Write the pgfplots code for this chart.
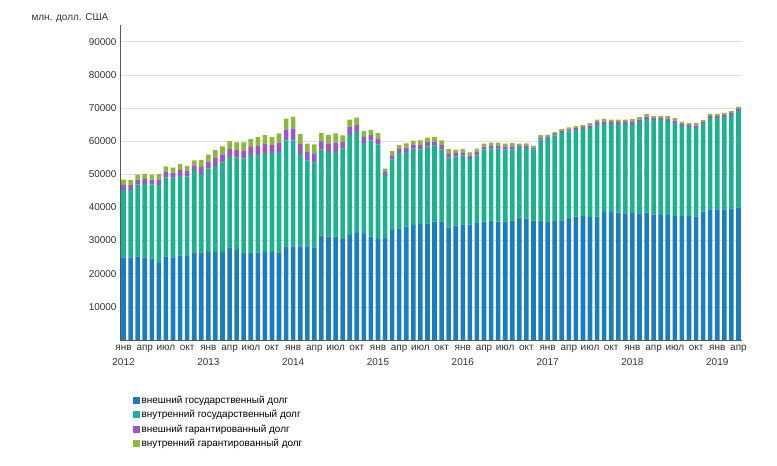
\documentclass[border=0pt]{standalone}
\usepackage{pgfplots}
\pgfplotsset{compat=1.18}
\usepackage{pgfplotstable}
\usepackage{fontspec}
\setmainfont{Liberation Sans}
\definecolor{cb}{HTML}{1B7CC0}
\definecolor{ct}{HTML}{1FB08E}
\definecolor{cp}{HTML}{9A57C9}
\definecolor{cg}{HTML}{8CB83B}
\pgfplotstableread{
x b t p g
1 24900 20300 12700 1600
2 24900 20300 12500 1500
3 25200 21700 12300 1500
4 24900 22200 12300 1500
5 24600 22300 11900 1500
6 23200 23600 11700 1600
7 25200 23800 11500 1700
8 24900 24100 11000 1500
9 25500 24000 10900 1800
10 25500 23800 11000 1600
11 26400 24800 10000 1500
12 26400 23700 12300 2100
13 26600 25100 12200 2100
14 26600 25900 11700 2400
15 26600 27000 11200 2400
16 27900 27300 11400 2400
17 27200 27800 11000 2300
18 26400 28400 10900 2400
19 26400 29400 10800 2400
20 26400 29400 9900 2700
21 26600 29800 9900 2700
22 26600 29800 9800 2400
23 26400 30300 9100 2800
24 28200 32000 9400 3300
25 28200 32000 9400 3600
26 28200 27900 9300 3000
27 28200 26000 9000 2500
28 27900 25700 8900 2700
29 31500 25900 9800 2500
30 31200 25500 9900 2600
31 31200 25500 9500 2800
32 30500 27200 9500 2000
33 31700 30200 9800 2300
34 32200 30500 8000 2200
35 32000 27400 8000 1800
36 31200 29000 7600 1600
37 30400 28600 7900 1700
38 30700 19000 7500 1000
39 33200 21200 9500 1300
40 33700 22700 9600 1200
41 34200 22500 9500 1300
42 34700 23000 9500 1200
43 35000 22400 9100 1400
44 35200 23200 10800 1300
45 35700 22900 10600 1300
46 35700 21700 10600 1400
47 33900 21100 8900 1300
48 34500 20900 9000 1000
49 34900 20700 8800 1000
50 34900 19700 8600 1000
51 35500 20200 8500 1000
52 35700 21700 8600 900
53 36000 21700 8300 900
54 35700 22000 8300 900
55 35700 21700 8600 900
56 36000 21400 8300 1000
57 36900 21300 9700 500
58 36600 21300 9600 700
59 36000 21400 9900 600
60 36000 24400 9800 700
61 35800 25100 10000 500
62 36100 25600 9900 500
63 36100 26300 9800 600
64 36900 26000 11100 600
65 37200 26100 10700 600
66 37400 26300 11100 600
67 37100 26900 11400 700
68 37200 27700 11300 800
69 38600 26500 11300 800
70 38600 26500 10600 700
71 38400 26700 10600 700
72 38200 26900 10600 700
73 38300 26800 10300 800
74 38200 27600 10300 700
75 38400 28300 9900 700
76 37900 28400 10100 600
77 37700 28600 9500 600
78 37700 28400 9600 700
79 37400 28100 9600 700
80 37400 27200 9700 600
81 37400 26900 9700 600
82 37200 26800 9700 700
83 38700 26400 9400 600
84 39400 27600 10700 600
85 39400 27600 10700 600
86 39400 27900 10400 600
87 39700 28100 10500 600
88 39900 29200 10200 600
}\data
\begin{document}
\begin{tikzpicture}[x=1bp,y=1bp]
\begin{axis}[
  at={(0,0)}, anchor=origin,
  scale only axis, width=622bp, height=315bp,
  xmin=0.5, xmax=88.5, ymin=0, ymax=95000,
  ybar stacked, bar width=4.6bp,
  axis x line*=bottom, axis y line*=left,
  axis line style={gray!70!black},
  ytick={10000,20000,...,90000},
  yticklabel style={font=\fontsize{10}{11}\selectfont, text=black!80},
  scaled y ticks=false,
  /pgf/number format/assume math mode=true,
  yticklabel={\pgfmathprintnumber[fixed,1000 sep={}]{\tick}},
  ymajorgrids, grid style={gray!25},
  major y tick style={draw=none},
  xtick={1,4,...,88},
  xtick style={gray!70!black},
  major tick length=4bp,
  xticklabels={янв\\2012,апр,июл,окт,янв\\2013,апр,июл,окт,янв\\2014,апр,июл,окт,янв\\2015,апр,июл,окт,янв\\2016,апр,июл,окт,янв\\2017,апр,июл,окт,янв\\2018,апр,июл,окт,янв\\2019,апр},
  xticklabel style={font=\fontsize{10}{15}\selectfont, align=center, anchor=north, inner xsep=0pt, yshift=-2bp, text=black!80},
  legend style={at={(rel axis cs:0.015,-0.165)}, anchor=north west, draw=none, font=\fontsize{10}{11}\selectfont, row sep=1.5bp},
  legend cell align=left,
  legend image code/.code={\fill[#1] (0bp,-3.5bp) rectangle (7bp,3.5bp);},
  clip=false,
]
\addplot[fill=cb, draw=none] table[x=x,y=b]{\data};
\addplot[fill=ct, draw=none] table[x=x,y=t]{\data};
\addplot[fill=cp, draw=none] table[x=x,y=g]{\data};
\addplot[fill=cg, draw=none] table[x=x,y=g]{\data};
\legend{внешний государственный долг, внутренний государственный долг, внешний гарантированный долг, внутренний гарантированный долг}
\end{axis}
\node[anchor=west, font=\fontsize{10}{11}\selectfont, text=black!80] at (-92bp,322bp) {млн. долл. США};
\pgfresetboundingbox
\path (-120bp,-126bp) rectangle (657bp,340bp);
\end{tikzpicture}
\end{document}
